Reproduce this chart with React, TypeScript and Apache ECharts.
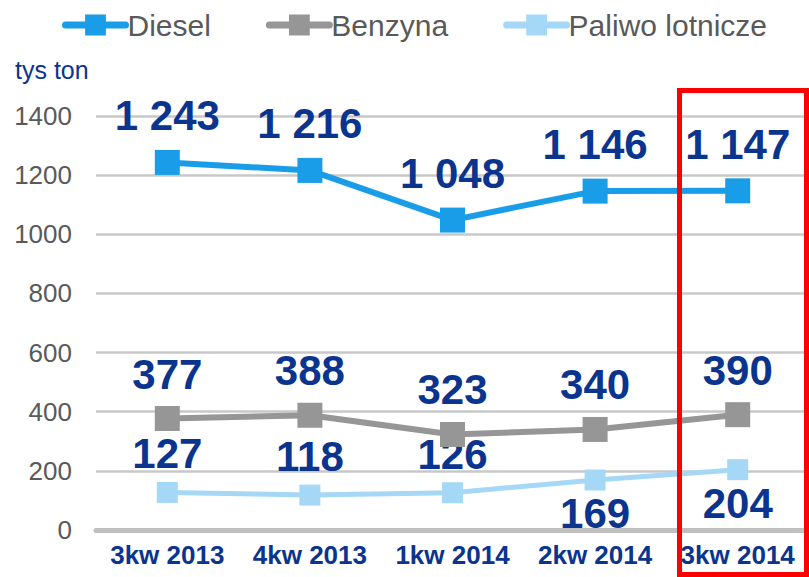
import React, { useEffect, useRef } from "react";
import * as echarts from "echarts";

const categories = ["3kw 2013", "4kw 2013", "1kw 2014", "2kw 2014", "3kw 2014"];
const diesel = [1243, 1216, 1048, 1146, 1147];
const benzyna = [377, 388, 323, 340, 390];
const paliwo = [127, 118, 126, 169, 204];
const seriesNames = ["Diesel", "Benzyna", "Paliwo lotnicze"];
const yTicks = { min: 0, max: 1400, interval: 200 };
const unitLabel = "tys ton";

const FONT = "'Liberation Sans', Arial, sans-serif";
const NAVY = "#0a348e";
const fmt = (v: number) => {
  const s = String(v);
  return s.length > 3 ? s.slice(0, s.length - 3) + " " + s.slice(-3) : s;
};

export default function App() {
  const ref = useRef<HTMLDivElement>(null);
  useEffect(() => {
    if (!ref.current) return;
    const chart = echarts.init(ref.current, null, { renderer: "svg" });
    const labelStyle = {
      show: true,
      fontFamily: FONT,
      fontWeight: "bold" as const,
      fontSize: 42,
      color: NAVY,
      formatter: (p: any) => fmt(p.value),
    };
    chart.setOption({
      animation: false,
      backgroundColor: "#ffffff",
      title: {
        text: unitLabel,
        left: 10,
        top: 52,
        textStyle: { fontFamily: FONT, fontSize: 25, fontWeight: "normal", color: NAVY },
      },
      legend: {
        left: 57,
        top: 5,
        itemWidth: 60,
        itemHeight: 26,
        itemGap: 55,
        lineStyle: { width: 7, cap: "round" },
        textStyle: { fontFamily: FONT, fontSize: 30, color: "#595959", padding: [0, 0, 0, -3] },
        data: seriesNames,
      },
      grid: { left: 96, width: 720, top: 116, height: 414 },
      xAxis: {
        type: "category",
        data: categories,
        boundaryGap: true,
        axisLine: { lineStyle: { color: "#c0c0c0", width: 5 } },
        axisTick: { show: false },
        axisLabel: {
          interval: 0,
          fontFamily: FONT,
          fontWeight: "bold",
          fontSize: 26,
          color: NAVY,
          margin: 12,
        },
      },
      yAxis: {
        type: "value",
        min: yTicks.min,
        max: yTicks.max,
        interval: yTicks.interval,
        axisLine: { show: false },
        axisTick: { show: false },
        axisLabel: {
          fontFamily: FONT,
          fontSize: 26,
          color: "#595959",
          margin: 24,
          formatter: (v: number) => String(v),
        },
        splitLine: { lineStyle: { color: "#c8c8c8", width: 2.5 } },
      },
      series: [
        {
          name: seriesNames[0],
          type: "line",
          data: diesel,
          symbol: "rect",
          symbolSize: 25,
          itemStyle: { color: "#1a9de8" },
          lineStyle: { color: "#1a9de8", width: 6 },
          label: { ...labelStyle, position: "top", distance: 13 },
          z: 3,
        },
        {
          name: seriesNames[1],
          type: "line",
          data: benzyna,
          symbol: "rect",
          symbolSize: 25,
          itemStyle: { color: "#969696" },
          lineStyle: { color: "#969696", width: 6 },
          label: { ...labelStyle, position: "top", distance: 11 },
          z: 2,
        },
        {
          name: seriesNames[2],
          type: "line",
          data: paliwo.map((v, i) => ({
            value: v,
            label: i >= 3 ? { position: "bottom", distance: 2 } : { position: "top", distance: 7 },
          })),
          symbol: "rect",
          symbolSize: 21,
          itemStyle: { color: "#a5d8f6" },
          lineStyle: { color: "#a5d8f6", width: 5 },
          label: { ...labelStyle },
          z: 1,
        },
      ],
      graphic: [
        {
          type: "rect",
          shape: { x: 679.5, y: 90.5, width: 127, height: 484 },
          style: { fill: "none", stroke: "#ff0000", lineWidth: 5 },
          z: 100,
        },
      ],
    });
    return () => chart.dispose();
  }, []);
  return (
    <div
      ref={ref}
      style={{ position: "absolute", left: 0, top: 0, width: 809, height: 577 }}
    />
  );
}
